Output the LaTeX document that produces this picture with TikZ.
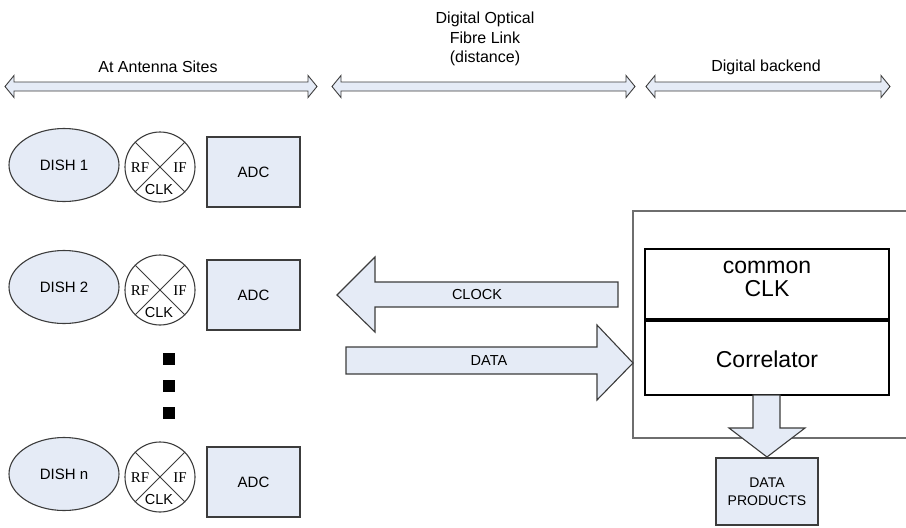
\documentclass[tikz,border=0pt]{standalone}
\usepackage{fontspec}
\setmainfont{Liberation Sans}
\newfontfamily\timesf{Liberation Serif}
\usetikzlibrary{shapes.geometric}
\definecolor{fillc}{RGB}{229,235,246}
\definecolor{linec}{RGB}{60,60,60}
\definecolor{boxc}{RGB}{110,110,110}
\tikzset{
  blk/.style={draw=linec, line width=1.1pt, fill=fillc},
  dish/.style={blk, ellipse, minimum width=110pt, minimum height=73pt, inner sep=0pt, font=\fontsize{15}{18}\selectfont},
  adcbox/.style={blk, rectangle, minimum width=93pt, minimum height=70pt, inner sep=0pt, font=\fontsize{15}{18}\selectfont},
  mix/.style={circle, draw=linec, line width=1.1pt, minimum size=70pt, inner sep=0pt, fill=white},
  serif/.style={inner sep=0pt, font=\timesf\fontsize{15}{18}\selectfont},
  smalllab/.style={inner sep=0pt, font=\fontsize{14.5}{18}\selectfont},
  toplab/.style={inner sep=0pt, font=\fontsize{16}{19.5}\selectfont, align=center},
  biglab/.style={inner sep=0pt, font=\fontsize{23}{26}\selectfont},
  dotsq/.style={fill=black, minimum size=12pt, inner sep=0pt},
}
\newcommand\dblarrow[3]{%
  \draw[blk, line width=0.9pt] (#1,#3) -- (#1+9,#3-11) -- (#1+9,#3-4.5) -- (#2-9,#3-4.5) -- (#2-9,#3-11) -- (#2,#3) -- (#2-9,#3+11) -- (#2-9,#3+4.5) -- (#1+9,#3+4.5) -- (#1+9,#3+11) -- cycle;}
\newcommand\dishrow[5]{%
  \node[dish] (d#1) at (64,#3) {#2};
  \node[mix] (m#1) at (160,#4) {};
  \draw[linec, line width=1pt] (m#1.45) -- (m#1.225) (m#1.135) -- (m#1.315);
  \node[serif] (rf#1) at (140,#4+1) {RF};
  \node[serif] (if#1) at (180,#4+1) {IF};
  \node[smalllab] (ck#1) at (159,#4+23) {CLK};
  \node[adcbox] (a#1) at (253.5,#5) {ADC};
}
\begin{document}
\begin{tikzpicture}[x=1pt,y=-1pt]
\useasboundingbox (0,0) rectangle (906,528);
% top bands
\dblarrow{5}{317}{86.5}
\dblarrow{332}{635}{86.5}
\dblarrow{646}{890}{86.5}
\node[toplab] (t1) at (158,67) {At Antenna Sites};
\node[toplab] (t2) at (485,39) {Digital Optical\\Fibre Link\\(distance)};
\node[toplab] (t3) at (766,67) {Digital backend};
% dish rows
\dishrow{1}{DISH 1}{165}{167}{172}
\dishrow{2}{DISH 2}{287}{290}{295}
\dishrow{n}{DISH n}{474}{477}{482}
% dots
\node[dotsq] (dot1) at (169,359) {};
\node[dotsq] (dot2) at (169,386) {};
\node[dotsq] (dot3) at (169,413) {};
% backend outer box
\draw[boxc, line width=1.2pt] (907,211) -- (633,211) -- (633,438) -- (907,438);
% correlator box
\node[draw=black, line width=1.1pt, minimum width=244pt, minimum height=146pt, inner sep=0pt] (corr) at (767,322) {};
\draw[black, line width=4pt] (645,320) -- (889,320);
\node[biglab] (common) at (767,267) {common};
\node[biglab] (clk) at (767,289) {CLK};
\node[biglab] (correl) at (767,359) {Correlator};
% CLOCK arrow
\draw[blk] (337,295) -- (375,257) -- (375,282) -- (618,282) -- (618,307) -- (375,307) -- (375,332) -- cycle;
\node[smalllab] (clocklab) at (477,295) {CLOCK};
% DATA arrow
\draw[blk] (346,347) -- (597,347) -- (597,325) -- (633,363) -- (597,400) -- (597,374) -- (346,374) -- cycle;
\node[smalllab] (datalab) at (489,361) {DATA};
% down arrow
\draw[blk] (753,395) -- (780,395) -- (780,428) -- (805,428) -- (767,457) -- (729,428) -- (753,428) -- cycle;
% data products
\node[blk, minimum width=102pt, minimum height=67pt, inner sep=0pt, align=center, font=\fontsize{14}{18}\selectfont] (dp) at (767,491.5) {DATA\\PRODUCTS};
\end{tikzpicture}
\end{document}
